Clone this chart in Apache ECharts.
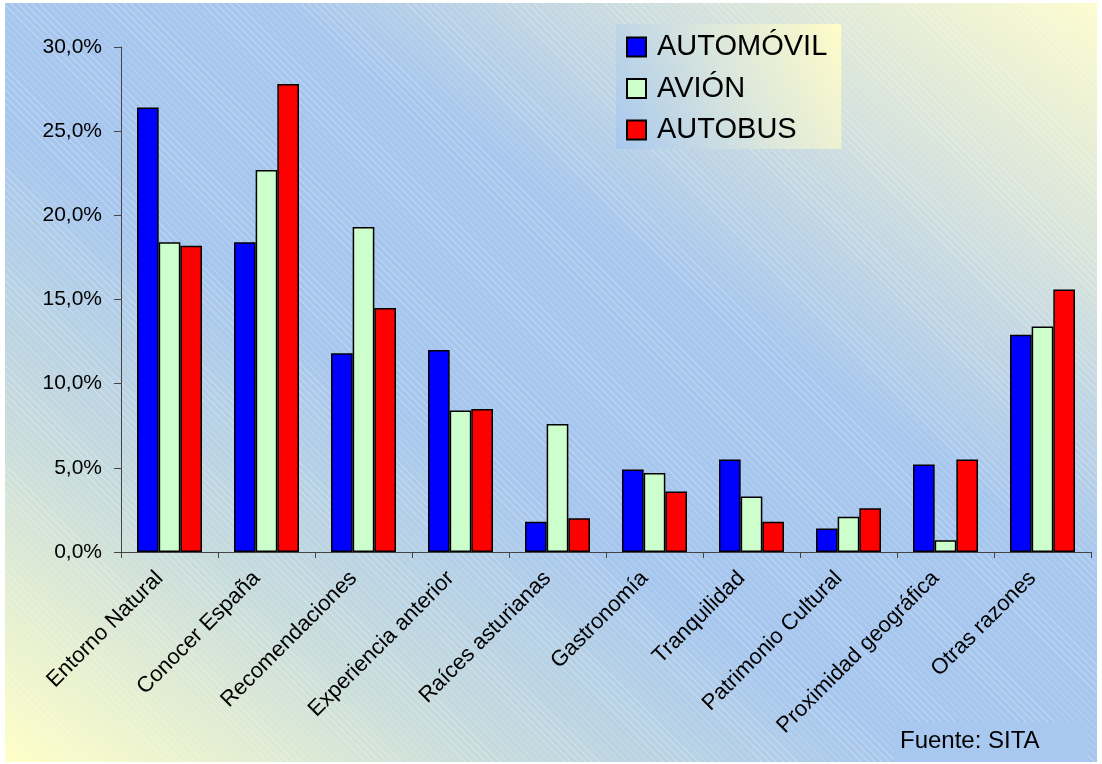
<!DOCTYPE html>
<html>
<head>
<meta charset="utf-8">
<script src="https://cdn.jsdelivr.net/npm/echarts@6/dist/echarts.min.js"></script>
<style>
html, body { margin: 0; padding: 0; background: #ffffff; }
#bg {
  position: absolute; left: 5px; top: 3px; width: 1092px; height: 759px;
  background:
    repeating-linear-gradient(45deg, rgba(255,255,255,0.22) 0px, rgba(255,255,255,0.22) 1px, rgba(255,255,255,0) 1px, rgba(255,255,255,0) 5px),
    linear-gradient(to top right, #ffffc6 0%, #c8dcdc 22%, #a6c6ee 42%, #a6c6ee 62%, #d6e2dc 82%, #fcfcce 100%);
}
#chart { position: absolute; left: 0; top: 0; width: 1102px; height: 764px; }
</style>
</head>
<body>
<div id="bg"></div>
<div id="chart"></div>
<script>
const categories = ['Entorno Natural', 'Conocer España', 'Recomendaciones', 'Experiencia anterior', 'Raíces asturianas', 'Gastronomía', 'Tranquilidad', 'Patrimonio Cultural', 'Proximidad geográfica', 'Otras razones'];
const automovil = [26.4, 18.4, 11.8, 12.0, 1.8, 4.9, 5.5, 1.4, 5.2, 12.9];
const avion = [18.4, 22.7, 19.3, 8.4, 7.6, 4.7, 3.3, 2.1, 0.7, 13.4];
const autobus = [18.2, 27.8, 14.5, 8.5, 2.0, 3.6, 1.8, 2.6, 5.5, 15.6];
const seriesNames = ['AUTOMÓVIL', 'AVIÓN', 'AUTOBUS'];
const seriesColors = ['#0000ff', '#ccffcc', '#ff0000'];
const sourceText = 'Fuente: SITA';

const chart = echarts.init(document.getElementById('chart'), null, { renderer: 'canvas' });
const font = 'Liberation Sans, Arial, sans-serif';
const dataSets = [automovil, avion, autobus];

chart.setOption({
  backgroundColor: 'transparent',
  animation: false,
  textStyle: { fontFamily: font },
  grid: { left: 121, right: 11, top: 47, bottom: 212, containLabel: false },
  legend: {
    orient: 'vertical',
    left: 616, top: 24,
    padding: [8, 10, 4, 10],
    itemWidth: 19, itemHeight: 19,
    itemGap: 11.5,
    icon: 'rect',
    backgroundColor: new echarts.graphic.LinearGradient(0, 1, 1, 0, [
      { offset: 0, color: '#a8c8ee' },
      { offset: 0.55, color: '#dde8dc' },
      { offset: 1, color: '#fffcc8' }
    ]),
    textStyle: { fontSize: 29, color: '#000', fontFamily: font, lineHeight: 30, padding: [0, 4, 0, 6] },
    data: seriesNames
  },
  xAxis: {
    type: 'category',
    data: categories,
    axisLine: { lineStyle: { color: '#444', width: 1 } },
    axisTick: { show: true, length: 6, alignWithLabel: false, lineStyle: { color: '#444' } },
    axisLabel: { rotate: 45, fontSize: 22, color: '#000', margin: 13, interval: 0, fontFamily: font, padding: [0, 14, 0, 0] }
  },
  yAxis: {
    type: 'value',
    min: 0, max: 30, interval: 5,
    axisLine: { show: true, lineStyle: { color: '#444', width: 1 } },
    axisTick: { show: true, length: 7, lineStyle: { color: '#444' } },
    splitLine: { show: false },
    axisLabel: {
      fontSize: 21, color: '#000', margin: 19, fontFamily: font,
      formatter: v => v.toFixed(1).replace('.', ',') + '%'
    }
  },
  series: seriesNames.map((name, i) => ({
    name: name,
    type: 'bar',
    data: dataSets[i],
    barGap: '0%',
    barCategoryGap: '33%',
    itemStyle: { color: seriesColors[i], borderColor: '#000', borderWidth: 1.5 }
  })),
  graphic: [
    {
      type: 'group',
      right: 14, bottom: 2,
      children: [
        { type: 'rect', shape: { x: 0, y: 0, width: 194, height: 40 }, style: { fill: '#a8c8f0' } },
        { type: 'text', left: 6, top: 7, style: { text: sourceText, fontSize: 24, fill: '#000', fontFamily: font } }
      ]
    }
  ]
});
</script>
</body>
</html>
